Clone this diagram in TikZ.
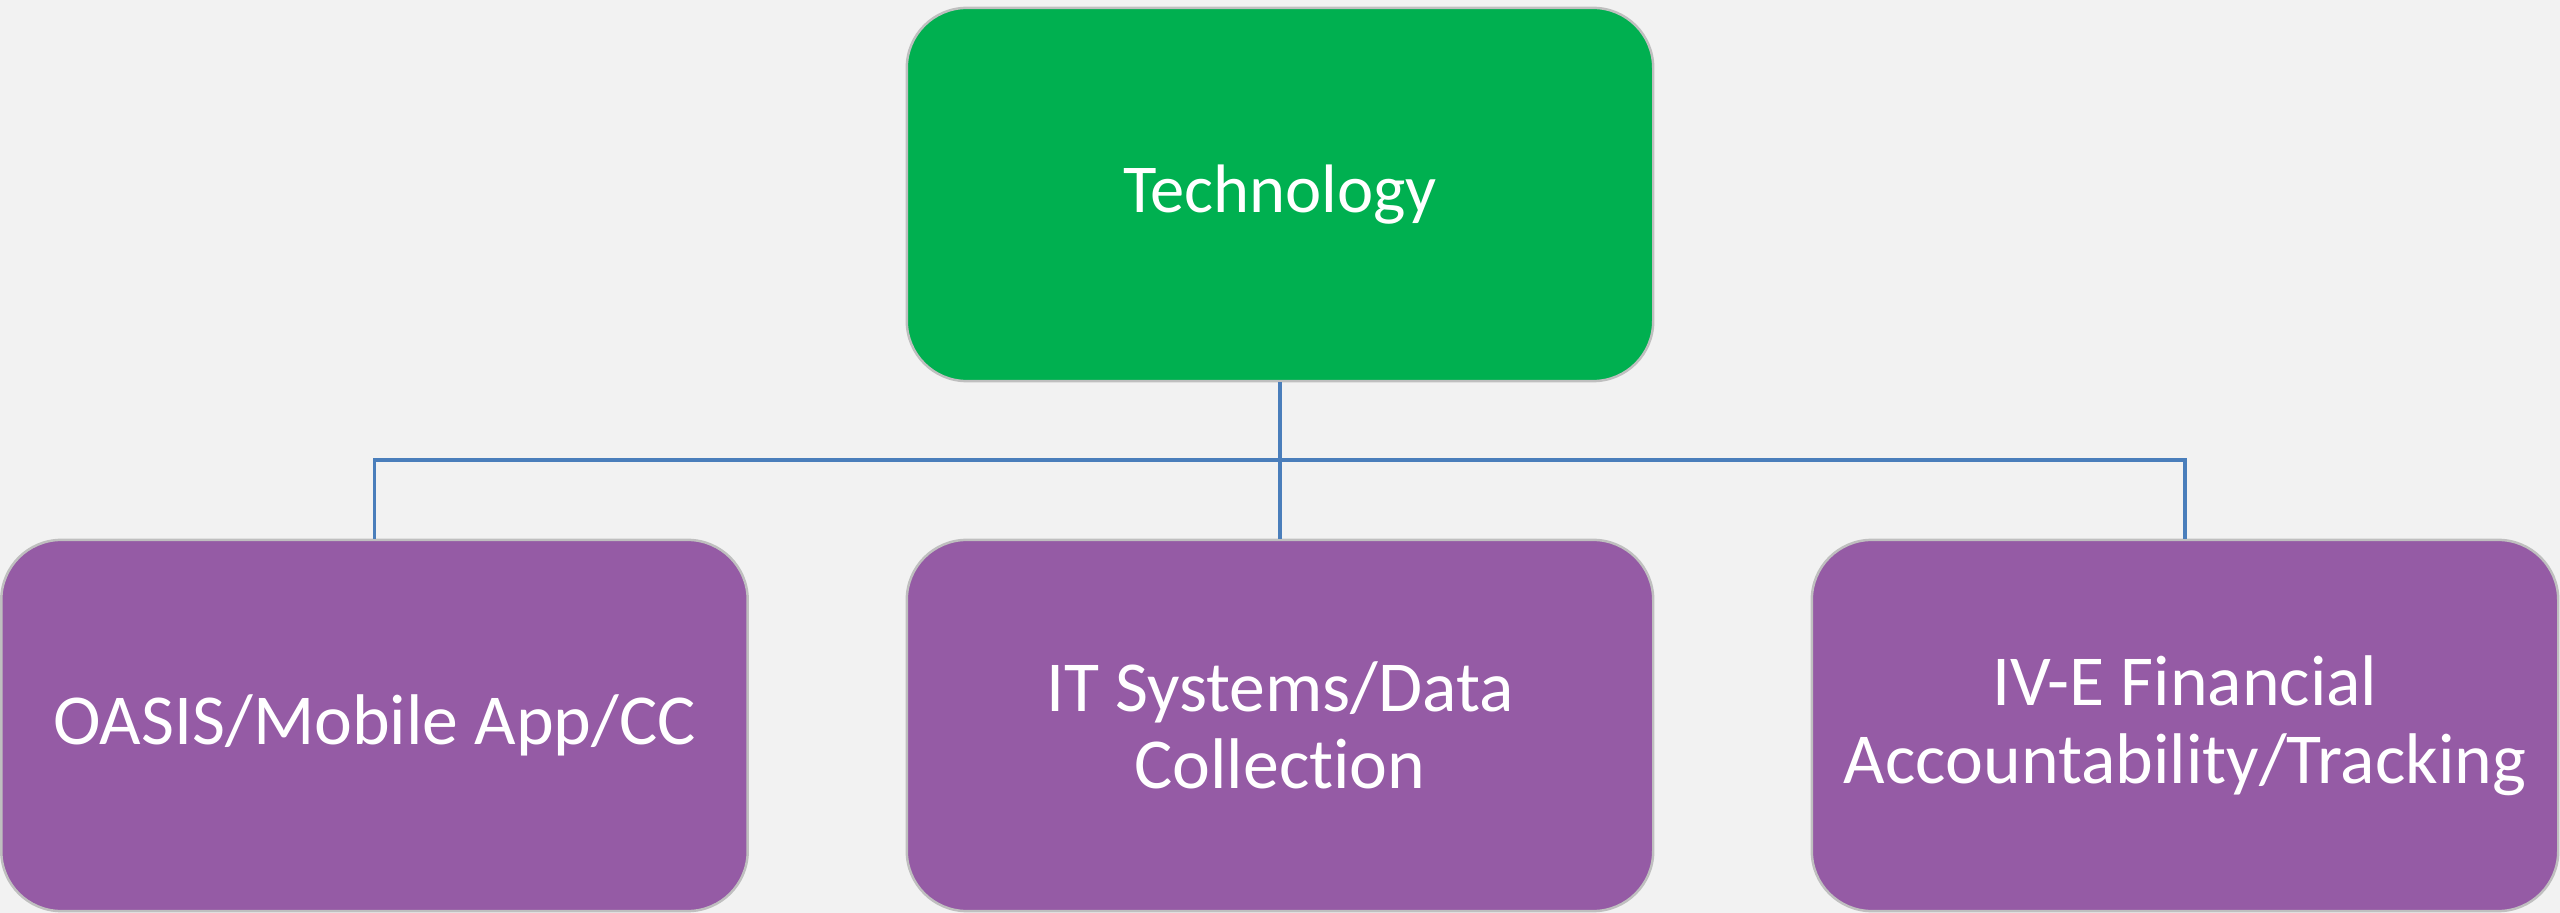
\documentclass[tikz,border=0pt]{standalone}
\usepackage{fontspec}
\setmainfont[Ligatures=NoCommon]{Carlito}
\definecolor{bg}{HTML}{F2F2F2}
\definecolor{topgreen}{HTML}{00B050}
\definecolor{boxpurple}{HTML}{955BA5}
\definecolor{edgegray}{HTML}{BFBFBF}
\definecolor{linkblue}{HTML}{4A7EBB}
\begin{document}
\begin{tikzpicture}[x=0.01cm,y=-0.01cm,
  box/.style={draw=edgegray, line width=0.7pt, rounded corners=0.6cm,
    minimum width=7.46cm, text=white, align=center,
    font=\fontsize{20.4}{22.1}\selectfont, inner sep=0pt},
  topbox/.style={box, fill=topgreen, minimum height=3.73cm,
    font=\fontsize{19.5}{22.1}\selectfont},
  subbox/.style={box, fill=boxpurple, minimum height=3.71cm},
  link/.style={draw=linkblue, line width=0.9pt}]
\fill[bg] (0,0) rectangle (2560,913);
\useasboundingbox (0,0) rectangle (2560,913);
\node[topbox] (tech) at (1280,194.5) {Technology};
\node[subbox] (oasis) at (374.5,725.5) {OASIS/Mobile App/CC};
\node[subbox] (its) at (1280,725.5) {IT Systems/Data\\Collection};
\node[subbox] (ive) at (2185,725.5) {IV-E Financial\\Accountability/Tracking};
\coordinate (bus) at (1280,460);
\draw[link] (tech.south) -- (its.north);
\draw[link] (oasis.north) |- (bus) -| (ive.north);
\end{tikzpicture}
\end{document}
